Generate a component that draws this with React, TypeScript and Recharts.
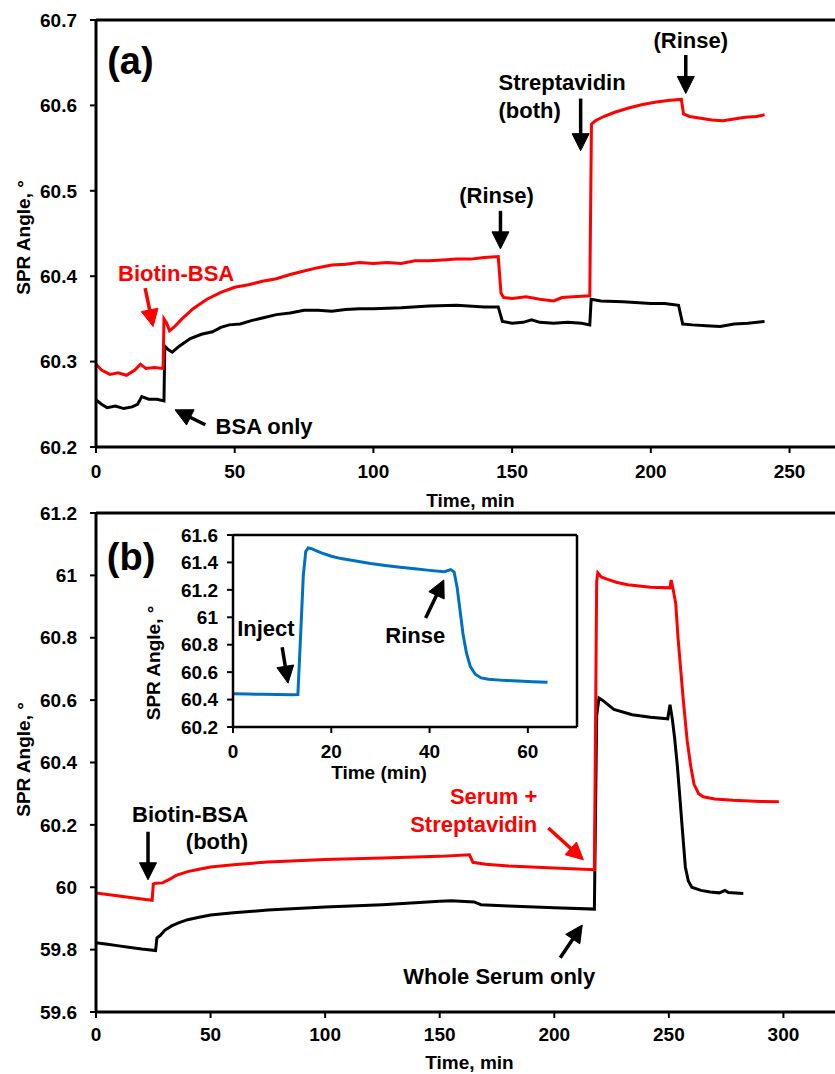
import React from 'react';
import { LineChart, Line, XAxis, YAxis, ReferenceLine, ReferenceDot, Label } from 'recharts';

const FONT = "Arial, 'Liberation Sans', Helvetica, sans-serif";
const RED = '#ff0000';
const BLACK = '#000000';
const BLUE = '#0070c0';

// ---------- Panel (a) ----------
const timeARed = [0, 2, 5, 8, 11, 14, 16, 18, 21, 24.2, 24.5, 25.5, 26.5, 28, 31, 35, 40, 45, 50, 55, 60, 65, 70, 75, 80, 85, 90, 95, 100, 105, 110, 115, 120, 125, 130, 135, 140, 145, 146, 147, 150, 155, 160, 165, 168, 172, 178, 178.6, 180, 183, 187, 192, 197, 202, 207, 211, 211.8, 214, 218, 222, 226, 230, 234, 238, 241];
const angleARed = [60.297, 60.29, 60.285, 60.287, 60.284, 60.29, 60.297, 60.292, 60.293, 60.292, 60.35, 60.345, 60.336, 60.34, 60.35, 60.362, 60.373, 60.381, 60.387, 60.39, 60.394, 60.397, 60.402, 60.406, 60.41, 60.413, 60.414, 60.416, 60.415, 60.416, 60.415, 60.418, 60.418, 60.419, 60.42, 60.42, 60.422, 60.423, 60.38, 60.375, 60.374, 60.376, 60.373, 60.371, 60.375, 60.376, 60.377, 60.578, 60.582, 60.587, 60.592, 60.597, 60.601, 60.604, 60.606, 60.607, 60.59, 60.587, 60.585, 60.583, 60.582, 60.584, 60.586, 60.587, 60.589];

const timeABlack = [0, 2, 4, 7, 10, 13, 15, 16.5, 19, 22, 24.5, 24.8, 26, 27.5, 30, 34, 38, 42, 45, 48, 52, 56, 60, 65, 70, 75, 80, 85, 90, 95, 100, 110, 120, 130, 140, 145, 146.5, 150, 154, 157, 160, 165, 170, 175, 178, 178.5, 182, 190, 200, 205, 210, 211.5, 215, 220, 225, 230, 235, 241];
const angleABlack = [60.255, 60.25, 60.246, 60.248, 60.245, 60.247, 60.25, 60.259, 60.256, 60.256, 60.254, 60.318, 60.314, 60.311, 60.318, 60.327, 60.332, 60.335, 60.34, 60.343, 60.344, 60.348, 60.351, 60.355, 60.357, 60.36, 60.36, 60.359, 60.361, 60.362, 60.362, 60.363, 60.365, 60.366, 60.364, 60.364, 60.347, 60.345, 60.346, 60.349, 60.346, 60.345, 60.346, 60.345, 60.343, 60.373, 60.371, 60.37, 60.368, 60.368, 60.366, 60.344, 60.343, 60.342, 60.341, 60.344, 60.345, 60.347];

const xTicksA = [0, 50, 100, 150, 200, 250];
const yTicksA = [60.2, 60.3, 60.4, 60.5, 60.6, 60.7];

// ---------- Panel (b) ----------
const timeBRed = [0, 5, 10, 15, 20, 24.5, 25, 26, 29, 32, 35, 40, 45, 50, 60, 75, 100, 125, 150, 163, 164.5, 170, 180, 200, 217.5, 218.5, 219, 220.5, 223, 227, 232, 242, 250.5, 251, 252, 253, 254, 256.3, 258, 259.5, 261, 263, 265, 270, 278, 290, 298];
const angleBRed = [59.982, 59.977, 59.972, 59.967, 59.962, 59.958, 60.01, 60.013, 60.014, 60.025, 60.038, 60.05, 60.058, 60.065, 60.072, 60.081, 60.089, 60.094, 60.099, 60.104, 60.08, 60.074, 60.068, 60.062, 60.056, 60.98, 61.008, 60.995, 60.988, 60.978, 60.97, 60.962, 60.96, 60.985, 60.95, 60.91, 60.8, 60.6, 60.47, 60.39, 60.33, 60.3, 60.29, 60.283, 60.279, 60.275, 60.274];

const timeBBlack = [0, 5, 10, 15, 20, 26, 26.6, 28, 30, 33, 36, 40, 45, 50, 60, 75, 100, 125, 150, 155, 165, 168, 180, 200, 217.5, 218.5, 219.5, 221, 226, 234, 242, 249.5, 250.5, 251.5, 252.5, 253.7, 255, 256, 257.2, 258.5, 260, 264, 268, 272, 274.5, 276, 282.5];
const angleBBlack = [59.822, 59.817, 59.812, 59.807, 59.802, 59.797, 59.838, 59.845, 59.862, 59.876, 59.886, 59.896, 59.904, 59.911, 59.918, 59.927, 59.937, 59.944, 59.955, 59.957, 59.953, 59.944, 59.94, 59.934, 59.93, 60.55, 60.607, 60.6, 60.57, 60.553, 60.545, 60.54, 60.585, 60.54, 60.48, 60.39, 60.27, 60.175, 60.065, 60.02, 60.0, 59.99, 59.985, 59.982, 59.99, 59.983, 59.98];

const xTicksB = [0, 50, 100, 150, 200, 250, 300];
const yTicksB = [59.6, 59.8, 60, 60.2, 60.4, 60.6, 60.8, 61, 61.2];

// ---------- Inset ----------
const timeInset = [0, 3, 6, 9, 12, 13.2, 13.8, 14.3, 14.8, 15.3, 16, 17, 18, 20, 22, 25, 28, 31, 34, 37, 40, 43, 44.3, 45, 45.6, 46.2, 46.8, 47.5, 48.3, 49.3, 50.5, 52, 55, 58, 61, 64];
const angleInset = [60.443, 60.44, 60.438, 60.437, 60.436, 60.437, 60.9, 61.3, 61.48, 61.505, 61.5, 61.485, 61.47, 61.445, 61.428, 61.41, 61.392, 61.378, 61.365, 61.354, 61.342, 61.332, 61.348, 61.33, 61.22, 61.05, 60.88, 60.74, 60.64, 60.585, 60.558, 60.548, 60.54, 60.535, 60.53, 60.527];

const xTicksInset = [0, 20, 40, 60];
const yTicksInset = [60.2, 60.4, 60.6, 60.8, 61, 61.2, 61.4, 61.6];

// ---------- Annotations (in data coordinates) ----------
const notesA = [
  { x: 12.4, y: 60.652, text: '(a)', color: BLACK, anchor: 'middle', big: true },
  { x: 28.9, y: 60.4035, text: 'Biotin-BSA', color: RED, anchor: 'middle' },
  { x: 60.6, y: 60.2235, text: 'BSA only', color: BLACK, anchor: 'middle' },
  { x: 144.4, y: 60.494, text: '(Rinse)', color: BLACK, anchor: 'middle' },
  { x: 145.1, y: 60.627, text: 'Streptavidin', color: BLACK, anchor: 'start' },
  { x: 145.1, y: 60.594, text: '(both)', color: BLACK, anchor: 'start' },
  { x: 214.4, y: 60.6765, text: '(Rinse)', color: BLACK, anchor: 'middle' },
];
const arrowsA = [
  { x1: 17.7, y1: 60.386, x2: 20.6, y2: 60.341, color: RED },
  { x1: 39.4, y1: 60.226, x2: 28.5, y2: 60.2435, color: BLACK },
  { x1: 145.8, y1: 60.4765, x2: 145.8, y2: 60.432, color: BLACK },
  { x1: 174.7, y1: 60.608, x2: 174.7, y2: 60.547, color: BLACK },
  { x1: 212.6, y1: 60.659, x2: 212.6, y2: 60.614, color: BLACK },
];
const notesB = [
  { x: 15.3, y: 61.059, text: '(b)', color: BLACK, anchor: 'middle', big: true },
  { x: 66.4, y: 60.232, text: 'Biotin-BSA', color: BLACK, anchor: 'end' },
  { x: 66.4, y: 60.146, text: '(both)', color: BLACK, anchor: 'end' },
  { x: 192.6, y: 60.29, text: 'Serum +', color: RED, anchor: 'end' },
  { x: 192.6, y: 60.2, text: 'Streptavidin', color: RED, anchor: 'end' },
  { x: 176, y: 59.713, text: 'Whole Serum only', color: BLACK, anchor: 'middle' },
];
const arrowsB = [
  { x1: 22.7, y1: 60.178, x2: 22.7, y2: 60.024, color: BLACK },
  { x1: 197.4, y1: 60.19, x2: 212.7, y2: 60.088, color: RED },
  { x1: 202.6, y1: 59.774, x2: 212.2, y2: 59.879, color: BLACK },
];
const notesInset = [
  { x: 6.7, y: 60.921, text: 'Inject', color: BLACK, anchor: 'middle' },
  { x: 37.1, y: 60.87, text: 'Rinse', color: BLACK, anchor: 'middle' },
];
const arrowsInset = [
  { x1: 10, y1: 60.782, x2: 11.2, y2: 60.52, color: BLACK },
  { x1: 39.2, y1: 60.994, x2: 42.9, y2: 61.272, color: BLACK },
];

const toData = (ts: number[], vs: number[]) => ts.map((t, i) => ({ t, v: vs[i] }));

const fmt = (v: number) => String(Number(Number(v).toFixed(1)));

const tickStyle = { fill: '#000', fontSize: 19, fontWeight: 'bold', fontFamily: FONT };
const axisLineStyle = { stroke: '#000', strokeWidth: 3 };
const tickLineStyle = { stroke: '#000', strokeWidth: 2 };

const ArrowShape = (props: any) => {
  const { x1, y1, x2, y2, stroke } = props;
  if ([x1, y1, x2, y2].some((n) => typeof n !== 'number' || isNaN(n))) return null;
  const dx = x2 - x1;
  const dy = y2 - y1;
  const len = Math.hypot(dx, dy) || 1;
  const ux = dx / len;
  const uy = dy / len;
  const hl = 17;
  const hw = 8.5;
  const bx = x2 - ux * hl;
  const by = y2 - uy * hl;
  const px = -uy;
  const py = ux;
  const pts = `${x2},${y2} ${bx + px * hw},${by + py * hw} ${bx - px * hw},${by - py * hw}`;
  return (
    <g>
      <line x1={x1} y1={y1} x2={bx + ux * 2} y2={by + uy * 2} stroke={stroke} strokeWidth={3.5} />
      <polygon points={pts} fill={stroke} stroke={stroke} strokeWidth={1} />
    </g>
  );
};

const makeTextShape = (text: string, color: string, anchor: string, big?: boolean) => (p: any) => (
  <text
    x={p.cx}
    y={p.cy}
    textAnchor={anchor as any}
    dominantBaseline="central"
    fill={color}
    fontFamily={FONT}
    fontWeight="bold"
    fontSize={big ? 38 : 22}
  >
    {text}
  </text>
);

const renderNotes = (notes: any[]) =>
  notes.map((n, i) => (
    <ReferenceDot
      key={'n' + i}
      x={n.x}
      y={n.y}
      r={0}
      ifOverflow="visible"
      shape={makeTextShape(n.text, n.color, n.anchor, n.big)}
    />
  ));

const renderArrows = (arrows: any[]) =>
  arrows.map((a, i) => (
    <ReferenceLine
      key={'a' + i}
      segment={[{ x: a.x1, y: a.y1 }, { x: a.x2, y: a.y2 }]}
      stroke={a.color}
      ifOverflow="visible"
      shape={ArrowShape}
    />
  ));

const xTitle = (text: string, dy: number, dx = 0) => (props: any) => {
  const vb = props.viewBox || {};
  return (
    <text
      x={vb.x + vb.width / 2 + dx}
      y={vb.y + dy}
      textAnchor="middle"
      dominantBaseline="central"
      fill="#000"
      fontFamily={FONT}
      fontWeight="bold"
      fontSize={19}
    >
      {text}
    </text>
  );
};

const yTitle = (text: string, cxOff: number, dy: number) => (props: any) => {
  const vb = props.viewBox || {};
  const cx = vb.x + cxOff;
  const cy = vb.y + vb.height / 2 + dy;
  return (
    <text
      x={cx}
      y={cy}
      transform={`rotate(-90, ${cx}, ${cy})`}
      textAnchor="middle"
      dominantBaseline="central"
      fill="#000"
      fontFamily={FONT}
      fontWeight="bold"
      fontSize={19}
    >
      {text}
    </text>
  );
};

const PanelA = () => (
  <LineChart width={860} height={510} margin={{ top: 20, right: 15, bottom: 0, left: 0 }}>
    <XAxis
      dataKey="t"
      type="number"
      domain={[0, 270]}
      ticks={xTicksA}
      allowDataOverflow
      height={63}
      axisLine={axisLineStyle}
      tickLine={tickLineStyle}
      tickSize={6}
      tickMargin={12}
      tick={tickStyle}
      interval={0}
    >
      <Label content={xTitle('Time, min', 53)} />
    </XAxis>
    <YAxis
      type="number"
      domain={[60.2, 60.7]}
      ticks={yTicksA}
      allowDataOverflow
      width={96}
      tickFormatter={fmt}
      axisLine={axisLineStyle}
      tickLine={tickLineStyle}
      tickSize={6}
      tickMargin={13}
      tick={tickStyle}
      interval={0}
    >
      <Label content={yTitle('SPR Angle, °', 23, 4)} />
    </YAxis>
    <ReferenceLine y={60.7} stroke="#000" strokeWidth={3} />
    <Line data={toData(timeABlack, angleABlack)} dataKey="v" stroke={BLACK} strokeWidth={3} dot={false} isAnimationActive={false} />
    <Line data={toData(timeARed, angleARed)} dataKey="v" stroke={RED} strokeWidth={3} dot={false} isAnimationActive={false} />
    {renderArrows(arrowsA)}
    {renderNotes(notesA)}
  </LineChart>
);

const PanelB = () => (
  <LineChart width={860} height={574} margin={{ top: 13, right: 17, bottom: 0, left: 0 }}>
    <XAxis
      dataKey="t"
      type="number"
      domain={[0, 326]}
      ticks={xTicksB}
      allowDataOverflow
      height={62}
      axisLine={axisLineStyle}
      tickLine={tickLineStyle}
      tickSize={6}
      tickMargin={10}
      tick={tickStyle}
      interval={0}
    >
      <Label content={xTitle('Time, min', 50)} />
    </XAxis>
    <YAxis
      type="number"
      domain={[59.6, 61.2]}
      ticks={yTicksB}
      allowDataOverflow
      width={96}
      tickFormatter={fmt}
      axisLine={axisLineStyle}
      tickLine={tickLineStyle}
      tickSize={6}
      tickMargin={13}
      tick={tickStyle}
      interval={0}
    >
      <Label content={yTitle('SPR Angle, °', 23, -3)} />
    </YAxis>
    <ReferenceLine y={61.2} stroke="#000" strokeWidth={3} />
    <Line data={toData(timeBBlack, angleBBlack)} dataKey="v" stroke={BLACK} strokeWidth={3} dot={false} isAnimationActive={false} />
    <Line data={toData(timeBRed, angleBRed)} dataKey="v" stroke={RED} strokeWidth={3} dot={false} isAnimationActive={false} />
    {renderArrows(arrowsB)}
    {renderNotes(notesB)}
  </LineChart>
);

const Inset = () => (
  <LineChart width={460} height={270} margin={{ top: 15, right: 13, bottom: 0, left: 0 }}>
    <XAxis
      dataKey="t"
      type="number"
      domain={[0, 70]}
      ticks={xTicksInset}
      allowDataOverflow
      height={63}
      axisLine={{ stroke: '#000', strokeWidth: 2.5 }}
      tickLine={tickLineStyle}
      tickSize={6}
      tickMargin={12}
      tick={tickStyle}
      interval={0}
    >
      <Label content={xTitle('Time (min)', 45, -26)} />
    </XAxis>
    <YAxis
      type="number"
      domain={[60.2, 61.6]}
      ticks={yTicksInset}
      allowDataOverflow
      width={103}
      tickFormatter={fmt}
      axisLine={{ stroke: '#000', strokeWidth: 2.5 }}
      tickLine={tickLineStyle}
      tickSize={6}
      tickMargin={9}
      tick={tickStyle}
      interval={0}
    >
      <Label content={yTitle('SPR Angle, °', 23, 32)} />
    </YAxis>
    <ReferenceLine y={61.6} stroke="#000" strokeWidth={2.5} />
    <ReferenceLine x={70} stroke="#000" strokeWidth={2.5} />
    <Line data={toData(timeInset, angleInset)} dataKey="v" stroke={BLUE} strokeWidth={3} dot={false} isAnimationActive={false} />
    {renderArrows(arrowsInset)}
    {renderNotes(notesInset)}
  </LineChart>
);

export default function App() {
  return (
    <div
      style={{
        position: 'absolute',
        left: 0,
        top: 0,
        width: 835,
        height: 1074,
        overflow: 'hidden',
        background: '#fff',
      }}
    >
      <div style={{ position: 'absolute', left: 0, top: 0 }}>
        <PanelA />
      </div>
      <div style={{ position: 'absolute', left: 0, top: 500 }}>
        <PanelB />
      </div>
      <div style={{ position: 'absolute', left: 130, top: 520 }}>
        <Inset />
      </div>
    </div>
  );
}
